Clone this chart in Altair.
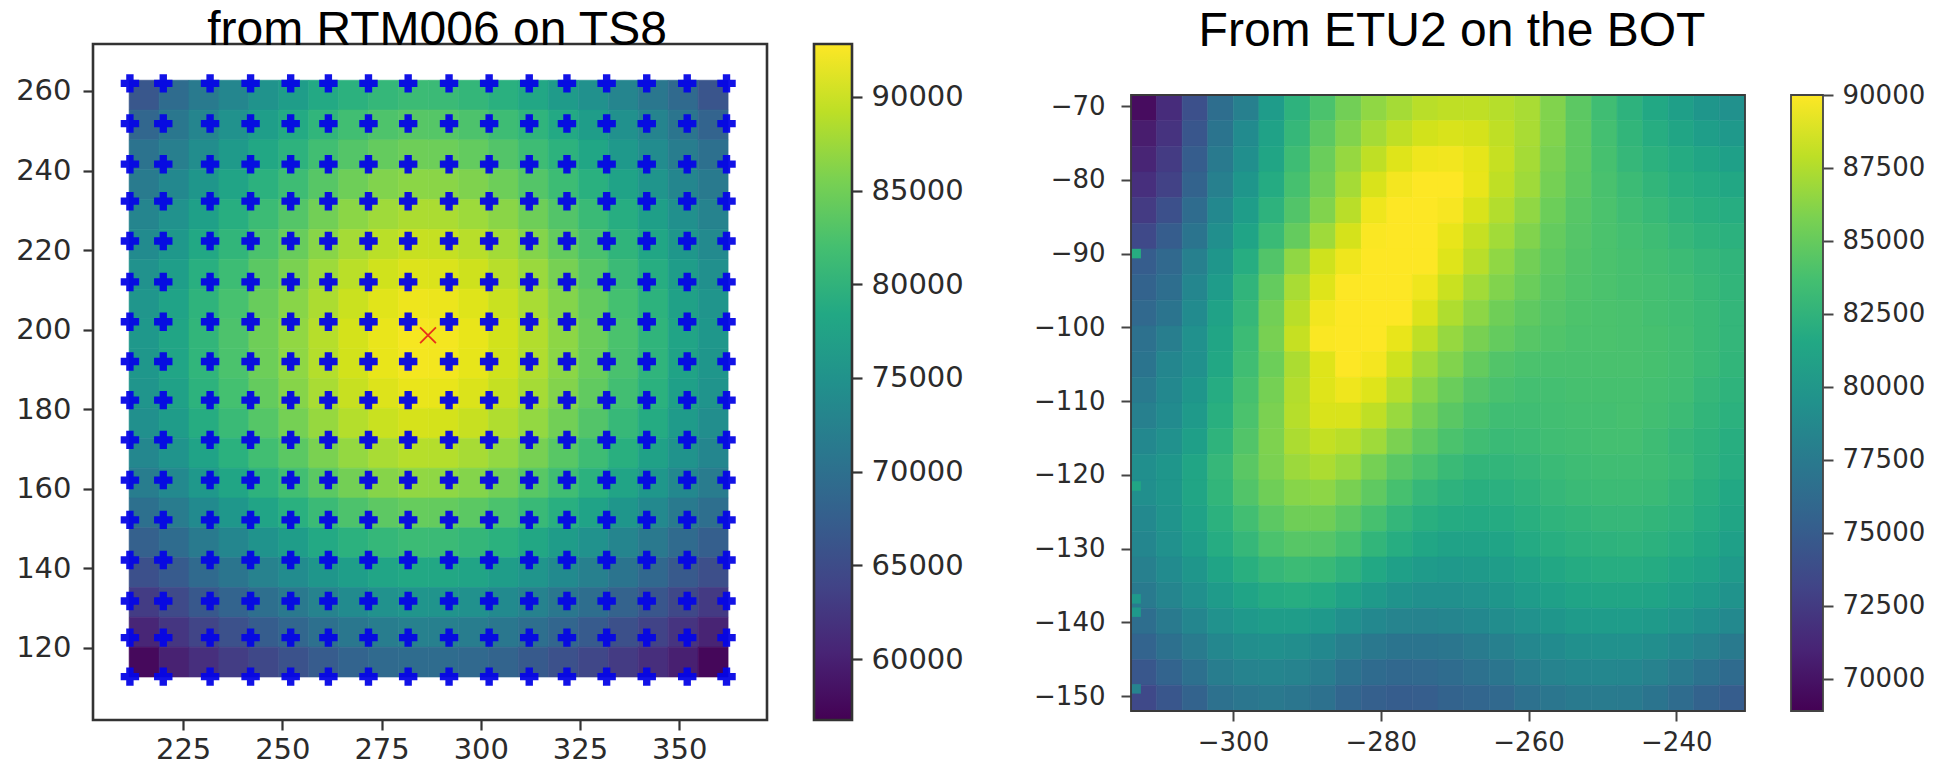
import altair as alt
import numpy as np
import pandas as pd

TITLE_LEFT = "from RTM006 on TS8"
TITLE_RIGHT = "From ETU2 on the BOT"
FONT_TITLE = "Liberation Sans"
FONT_AXIS = "DejaVu Sans"

VIRIDIS = ["#440154", "#482475", "#414487", "#355f8d", "#2a788e", "#21918c",
           "#22a884", "#44bf70", "#7ad151", "#bddf26", "#fde725"]

# Left map: values in thousands, rows top to bottom, columns left to right
TS8_X_EXTENT = [211.4, 362.3]
TS8_Y_EXTENT = [262.7, 112.7]
TS8_DOMAIN = [56750, 92820]
TS8_ROWS = [
    [66.5, 69.4, 71.5, 73.3, 75.2, 76.8, 78.5, 79.8, 80.8, 81.4, 81.3, 80.7, 79.6, 78.2, 76.4, 74.8, 73.0, 71.1, 69.0, 66.2],
    [68.6, 71.0, 73.1, 75.0, 76.9, 78.7, 80.4, 81.8, 82.8, 83.4, 83.3, 82.7, 81.6, 80.2, 78.5, 76.7, 74.8, 72.9, 70.8, 68.2],
    [70.4, 72.1, 74.3, 76.3, 78.3, 80.0, 81.8, 83.2, 84.3, 84.9, 84.8, 84.2, 83.1, 81.6, 79.9, 78.1, 76.1, 74.1, 71.9, 70.0],
    [71.6, 73.5, 75.7, 77.8, 79.8, 81.6, 83.4, 84.9, 86.0, 86.6, 86.5, 85.9, 84.8, 83.2, 81.5, 79.6, 77.6, 75.5, 73.3, 71.4],
    [73.0, 74.9, 77.2, 79.3, 81.4, 83.2, 85.1, 86.6, 87.7, 88.4, 88.3, 87.6, 86.5, 84.9, 83.1, 81.2, 79.1, 77.0, 74.7, 72.8],
    [74.0, 76.0, 78.4, 80.5, 82.6, 84.5, 86.4, 88.0, 89.1, 89.8, 89.7, 89.0, 87.9, 86.2, 84.3, 82.4, 80.3, 78.1, 75.8, 73.8],
    [74.9, 76.9, 79.4, 81.5, 83.7, 85.6, 87.6, 89.1, 90.3, 91.0, 90.9, 90.2, 89.0, 87.4, 85.4, 83.5, 81.3, 79.1, 76.7, 74.7],
    [75.6, 77.6, 80.1, 82.3, 84.5, 86.4, 88.4, 90.0, 91.2, 91.9, 91.8, 91.1, 89.9, 88.2, 86.2, 84.3, 82.1, 79.9, 77.4, 75.4],
    [76.0, 78.0, 80.5, 82.7, 84.9, 86.9, 88.9, 90.5, 91.7, 92.4, 92.3, 91.6, 90.4, 88.7, 86.7, 84.7, 82.5, 80.3, 77.8, 75.8],
    [75.9, 77.9, 80.4, 82.6, 84.8, 86.8, 88.8, 90.4, 91.6, 92.3, 92.2, 91.5, 90.3, 88.6, 86.6, 84.6, 82.4, 80.2, 77.7, 75.7],
    [75.5, 77.4, 79.9, 82.1, 84.3, 86.3, 88.2, 89.8, 91.0, 91.7, 91.6, 90.9, 89.7, 88.0, 86.1, 84.1, 81.9, 79.7, 77.2, 75.3],
    [74.6, 76.6, 79.0, 81.2, 83.3, 85.3, 87.2, 88.8, 89.9, 90.6, 90.5, 89.8, 88.6, 87.0, 85.1, 83.1, 81.0, 78.8, 76.4, 74.4],
    [73.4, 75.3, 77.6, 79.7, 81.8, 83.7, 85.6, 87.1, 88.2, 88.9, 88.8, 88.1, 87.0, 85.4, 83.5, 81.6, 79.5, 77.4, 75.1, 73.2],
    [71.9, 73.7, 76.0, 78.0, 80.0, 81.9, 83.7, 85.2, 86.3, 86.9, 86.8, 86.2, 85.1, 83.5, 81.7, 79.8, 77.8, 75.8, 73.5, 71.7],
    [70.0, 71.7, 73.9, 75.9, 77.8, 79.6, 81.3, 82.7, 83.8, 84.4, 84.3, 83.7, 82.6, 81.1, 79.4, 77.6, 75.7, 73.7, 71.5, 69.8],
    [67.7, 69.4, 71.5, 73.3, 75.2, 76.8, 78.5, 79.8, 80.8, 81.4, 81.3, 80.7, 79.7, 78.3, 76.6, 75.0, 73.1, 71.3, 69.2, 67.5],
    [65.5, 67.0, 69.0, 70.8, 72.5, 74.1, 75.7, 76.9, 77.9, 78.4, 78.3, 77.8, 76.8, 75.5, 73.9, 72.3, 70.6, 68.8, 66.8, 65.3],
    [63.0, 64.7, 66.6, 68.2, 69.8, 71.3, 72.8, 74.0, 74.9, 75.4, 75.3, 74.8, 73.9, 72.6, 71.1, 69.6, 68.0, 66.4, 64.5, 62.8],
    [60.5, 62.3, 64.1, 65.6, 67.2, 68.6, 70.0, 71.1, 71.9, 72.4, 72.3, 71.8, 71.0, 69.8, 68.4, 67.0, 65.4, 63.9, 62.1, 60.2],
    [57.5, 60.0, 61.6, 63.1, 64.5, 65.8, 67.1, 68.2, 69.0, 69.4, 69.3, 68.9, 68.1, 66.9, 65.6, 64.3, 62.9, 61.4, 59.8, 57.3],
]
GRID_COLUMNS_X = [211.6, 220.0, 231.8, 242.0, 252.1, 261.6, 271.7, 281.7, 292.0, 302.1, 312.2, 321.7, 331.7, 341.8, 352.0, 361.9]
GRID_ROWS_Y = [261.9, 251.8, 241.6, 232.3, 222.3, 212.0, 202.0, 192.0, 182.3, 172.3, 162.2, 152.2, 142.1, 131.8, 122.6, 112.8]
PEAK_X = [286.7]
PEAK_Y = [198.6]
TS8_XLIM = [202.3, 372.1]
TS8_YLIM = [101.9, 271.8]
TS8_XTICKS = [225, 250, 275, 300, 325, 350]
TS8_YTICKS = [120, 140, 160, 180, 200, 220, 240, 260]
TS8_BAR_TICKS = [60000, 65000, 70000, 75000, 80000, 85000, 90000]

# Right map: values in thousands, rows top to bottom, columns left to right
BOT_XLIM = [-313.8, -230.7]
BOT_Y_EXTENT = [-68.5, -152.0]
BOT_YLIM = [-152.0, -61.59]   # room above the frame so the panel top lines up with the left one
BOT_DOMAIN = [68900, 90000]
BOT_BAR_LIM = [68900, 91747]
BOT_ROWS = [
    [69.5, 71.5, 74.0, 76.5, 78.0, 80.5, 82.5, 84.0, 85.5, 86.5, 87.2, 87.8, 88.0, 88.0, 87.7, 87.3, 86.0, 84.7, 83.5, 82.5, 81.6, 80.8, 80.0, 79.5],
    [70.5, 72.0, 74.5, 77.0, 79.0, 81.0, 83.0, 84.7, 86.0, 87.2, 88.0, 88.6, 88.8, 88.7, 88.0, 87.3, 86.0, 84.8, 83.7, 82.8, 82.0, 81.3, 80.7, 80.2],
    [71.0, 72.5, 75.0, 77.5, 79.3, 81.3, 83.4, 85.2, 86.7, 88.0, 89.0, 89.5, 89.6, 89.2, 88.2, 87.2, 85.8, 84.8, 83.8, 83.0, 82.4, 81.8, 81.3, 80.9],
    [71.7, 73.0, 75.5, 78.0, 80.0, 81.8, 83.8, 85.5, 87.2, 88.8, 89.7, 90.0, 90.0, 89.3, 88.0, 87.0, 85.6, 84.7, 83.9, 83.3, 82.8, 82.2, 81.8, 81.5],
    [72.5, 74.0, 76.3, 78.7, 80.6, 82.5, 84.3, 86.0, 87.8, 89.5, 90.0, 90.0, 89.8, 88.8, 87.6, 86.5, 85.3, 84.5, 84.0, 83.5, 83.1, 82.6, 82.2, 82.0],
    [73.5, 75.0, 77.0, 79.3, 81.2, 83.2, 85.0, 87.0, 88.7, 89.9, 90.0, 90.0, 89.3, 88.2, 87.1, 86.0, 85.0, 84.4, 84.0, 83.7, 83.4, 83.0, 82.6, 82.4],
    [75.0, 76.0, 78.0, 80.0, 82.0, 84.3, 86.5, 88.5, 89.5, 90.0, 90.0, 90.0, 89.0, 87.8, 86.5, 85.5, 84.8, 84.3, 84.0, 83.8, 83.6, 83.3, 83.0, 82.7],
    [75.5, 76.5, 78.5, 80.5, 82.7, 85.0, 87.3, 89.0, 90.0, 90.0, 90.0, 89.5, 88.3, 87.1, 86.0, 85.2, 84.6, 84.2, 84.0, 83.8, 83.7, 83.5, 83.1, 82.8],
    [76.0, 77.0, 79.0, 81.0, 83.0, 85.5, 87.8, 89.6, 90.0, 90.0, 90.0, 88.9, 87.5, 86.4, 85.4, 84.8, 84.4, 84.1, 84.0, 83.9, 83.7, 83.5, 83.2, 82.9],
    [76.7, 77.8, 79.5, 81.3, 83.3, 85.7, 88.2, 89.9, 90.0, 90.0, 89.3, 88.0, 86.7, 85.7, 85.0, 84.5, 84.2, 84.0, 84.0, 83.9, 83.8, 83.6, 83.2, 82.9],
    [77.0, 78.5, 79.5, 81.5, 83.5, 85.3, 87.4, 89.0, 90.0, 89.7, 88.5, 87.0, 86.0, 85.0, 84.3, 84.0, 83.9, 83.9, 83.9, 83.9, 83.8, 83.6, 83.2, 82.8],
    [77.5, 78.7, 80.0, 81.9, 83.8, 85.6, 87.6, 89.0, 89.5, 89.0, 87.7, 86.2, 85.2, 84.4, 83.9, 83.7, 83.7, 83.8, 83.8, 83.8, 83.7, 83.5, 83.0, 82.6],
    [78.0, 79.0, 80.3, 82.2, 84.0, 85.8, 87.7, 88.8, 88.8, 88.0, 86.8, 85.5, 84.6, 83.9, 83.5, 83.5, 83.6, 83.7, 83.7, 83.8, 83.6, 83.3, 82.8, 82.4],
    [78.7, 79.5, 80.8, 82.6, 84.3, 85.9, 87.4, 88.1, 87.8, 87.0, 85.8, 84.8, 84.0, 83.5, 83.2, 83.3, 83.5, 83.6, 83.7, 83.7, 83.4, 83.0, 82.6, 82.1],
    [79.3, 80.0, 81.3, 83.0, 84.6, 85.8, 86.9, 87.4, 86.8, 85.6, 84.6, 83.9, 83.2, 82.8, 82.8, 83.0, 83.2, 83.4, 83.5, 83.5, 83.4, 83.1, 82.5, 82.0],
    [79.3, 80.0, 81.3, 82.8, 84.3, 85.4, 86.2, 86.4, 85.7, 84.8, 83.8, 83.0, 82.5, 82.2, 82.3, 82.6, 83.0, 83.2, 83.3, 83.3, 83.2, 82.8, 82.2, 81.6],
    [78.8, 79.8, 81.0, 82.4, 83.6, 84.7, 85.4, 85.4, 84.7, 83.8, 82.9, 82.2, 81.8, 81.7, 81.8, 82.2, 82.6, 82.8, 83.0, 83.0, 82.8, 82.5, 81.9, 81.3],
    [78.5, 79.5, 80.6, 81.9, 83.0, 84.0, 84.5, 84.4, 83.8, 82.8, 82.0, 81.4, 81.0, 81.0, 81.2, 81.7, 82.1, 82.4, 82.5, 82.6, 82.4, 82.0, 81.5, 80.9],
    [78.0, 79.0, 80.0, 81.2, 82.2, 83.0, 83.3, 83.1, 82.5, 81.6, 80.9, 80.4, 80.2, 80.3, 80.6, 81.0, 81.5, 81.8, 82.0, 82.0, 81.8, 81.4, 81.0, 80.3],
    [77.5, 78.4, 79.4, 80.4, 81.2, 81.8, 82.0, 81.7, 81.0, 80.3, 79.7, 79.4, 79.4, 79.6, 80.0, 80.5, 80.9, 81.2, 81.3, 81.3, 81.2, 80.8, 80.3, 79.7],
    [76.5, 77.5, 78.5, 79.6, 80.2, 80.6, 80.6, 80.2, 79.4, 78.7, 78.3, 78.2, 78.4, 78.7, 79.1, 79.6, 80.0, 80.4, 80.5, 80.5, 80.3, 79.9, 79.3, 78.8],
    [75.6, 76.6, 77.6, 78.6, 79.2, 79.4, 79.2, 78.7, 77.9, 77.3, 77.0, 77.0, 77.2, 77.6, 78.0, 78.6, 79.0, 79.4, 79.5, 79.5, 79.2, 78.7, 78.1, 77.5],
    [74.6, 75.6, 76.6, 77.7, 78.2, 78.4, 78.2, 77.7, 76.8, 76.2, 75.9, 76.0, 76.3, 76.7, 77.1, 77.7, 78.2, 78.5, 78.6, 78.5, 78.1, 77.5, 76.8, 76.2],
    [73.5, 74.5, 75.5, 76.7, 77.2, 77.4, 77.2, 76.7, 75.8, 75.2, 75.0, 75.1, 75.5, 75.8, 76.0, 76.7, 77.2, 77.5, 77.6, 77.5, 77.0, 76.3, 75.5, 75.0],
]
HOT_X = [-313.1, -313.1, -313.1, -313.1, -313.1]
HOT_Y = [-90.0, -121.5, -136.8, -138.6, -149.0]
HOT_V = [82000, 81400, 80200, 80200, 78200]
BOT_XTICKS = [-300, -280, -260, -240]
BOT_YTICKS = [-70, -80, -90, -100, -110, -120, -130, -140, -150]
BOT_BAR_TICKS = [70000, 72500, 75000, 77500, 80000, 82500, 85000, 87500, 90000]

LEFT_W, LEFT_H = 674, 676
LEFT_BAR_W = 38
RIGHT_W, RIGHT_H = 614, 667
RIGHT_TOP = 51
RIGHT_BAR_W = 32
GAP_A, GAP_B, GAP_C = 47, 279, 46


def cells(rows, x_extent, y_extent):
    xe = np.linspace(x_extent[0], x_extent[1], len(rows[0]) + 1)
    ye = np.linspace(y_extent[0], y_extent[1], len(rows) + 1)
    out = []
    for j, row in enumerate(rows):
        for i, v in enumerate(row):
            out.append({"x0": xe[i], "x1": xe[i + 1], "y0": ye[j], "y1": ye[j + 1], "v": v * 1000})
    return pd.DataFrame(out)


def frame(w, h, sw, col, top=0):
    return alt.Chart(pd.DataFrame({"a": [0]})).mark_rect(
        fillOpacity=0, stroke=col, strokeWidth=sw
    ).encode(x=alt.value(0), x2=alt.value(w), y=alt.value(top), y2=alt.value(h))


def axis(values, pad, size, tick_w, col, orient=None):
    kw = dict(values=values, title=None, grid=False, domain=False, tickSize=10, tickWidth=tick_w,
              tickColor=col, labelColor="#2b2b2b", labelFont=FONT_AXIS, labelFontSize=size,
              labelPadding=pad, labelFlush=False, labelOverlap=False, format="d")
    if orient:
        kw["orient"] = orient
    return alt.Axis(**kw)


def heat(rows, xext, yext, xlim, ylim, domain, xticks, yticks, xpad, ypad, size, tick_w, col):
    cs = alt.Scale(scheme="viridis", domain=domain, clamp=True)
    return alt.Chart(cells(rows, xext, yext)).mark_rect(strokeWidth=0.6).encode(
        x=alt.X("x0:Q", scale=alt.Scale(domain=xlim, nice=False, zero=False), axis=axis(xticks, xpad, size, tick_w, col)),
        x2="x1:Q",
        y=alt.Y("y0:Q", scale=alt.Scale(domain=ylim, nice=False, zero=False), axis=axis(yticks, ypad, size, tick_w, col)),
        y2="y1:Q",
        color=alt.Color("v:Q", scale=cs, legend=None),
        stroke=alt.Stroke("v:Q", scale=cs, legend=None),
    ), cs


def colorbar(bar_span, scale_lim, ticks, w, h, size, tick_w, col, sw, top=0):
    grad = alt.Gradient(gradient="linear", x1=0, x2=0, y1=1, y2=0,
                        stops=[alt.GradientStop(color=c, offset=i / (len(VIRIDIS) - 1)) for i, c in enumerate(VIRIDIS)])
    bar = alt.Chart(pd.DataFrame({"lo": [bar_span[0]], "hi": [bar_span[1]]})).mark_rect(color=grad).encode(
        y=alt.Y("lo:Q", scale=alt.Scale(domain=scale_lim, nice=False, zero=False),
                axis=axis(ticks, 9, size, tick_w, col, orient="right")),
        y2="hi:Q",
    )
    return alt.layer(bar, frame(w, h, sw, col, top)).properties(width=w, height=h)


def gap(w):
    return alt.Chart(pd.DataFrame({"a": [0]})).mark_point(opacity=0).encode(
        x=alt.X("a:Q", axis=None), y=alt.Y("a:Q", axis=None)
    ).properties(width=w, height=1)


left_heat, _ = heat(TS8_ROWS, TS8_X_EXTENT, TS8_Y_EXTENT, TS8_XLIM, TS8_YLIM, TS8_DOMAIN,
                    TS8_XTICKS, TS8_YTICKS, 5, 12, 29, 2.2, "#333333")
grid_df = pd.DataFrame([{"x": x, "y": y} for y in GRID_ROWS_Y for x in GRID_COLUMNS_X])
plus = alt.Chart(grid_df).mark_point(shape="cross", filled=True, size=340, color="#0505e6", opacity=0.95).encode(
    x="x:Q", y="y:Q")
peak = alt.Chart(pd.DataFrame({"x": PEAK_X, "y": PEAK_Y})).mark_point(
    shape="M -1 -1 L 1 1 M -1 1 L 1 -1", filled=False, size=250, stroke="#e8301a", strokeWidth=1.8, opacity=1
).encode(x="x:Q", y="y:Q")

left_map = alt.layer(left_heat, plus, peak, frame(LEFT_W, LEFT_H, 2.6, "#333333")).properties(
    width=LEFT_W, height=LEFT_H,
    title=alt.TitleParams(TITLE_LEFT, font=FONT_TITLE, fontSize=48, fontWeight="normal", color="#000000",
                          anchor="middle", dx=7, offset=-50, baseline="alphabetic"),
)
left_bar = colorbar(TS8_DOMAIN, TS8_DOMAIN, TS8_BAR_TICKS, LEFT_BAR_W, LEFT_H, 29, 2.2, "#333333", 2.6)

right_heat, right_cs = heat(BOT_ROWS, BOT_XLIM, BOT_Y_EXTENT, BOT_XLIM, BOT_YLIM, BOT_DOMAIN,
                            BOT_XTICKS, BOT_YTICKS, 8, 16, 26, 2, "#444444")
hot = alt.Chart(pd.DataFrame({"x": HOT_X, "y": HOT_Y, "v": HOT_V})).mark_square(size=90, opacity=1).encode(
    x="x:Q", y="y:Q", color=alt.Color("v:Q", scale=right_cs, legend=None))
right_map = alt.layer(right_heat, hot, frame(RIGHT_W, RIGHT_H, 1.8, "#3a3a3a", RIGHT_TOP)).properties(
    width=RIGHT_W, height=RIGHT_H,
    title=alt.TitleParams(TITLE_RIGHT, font=FONT_TITLE, fontSize=48, fontWeight="normal", color="#000000",
                          anchor="middle", dx=14, offset=-50, baseline="alphabetic"),
)
right_bar = colorbar(BOT_DOMAIN, BOT_BAR_LIM, BOT_BAR_TICKS, RIGHT_BAR_W, RIGHT_H, 26, 2, "#444444", 1.8, RIGHT_TOP)

chart = alt.hconcat(left_map, gap(GAP_A), left_bar, gap(GAP_B), right_map, gap(GAP_C), right_bar,
                    spacing=0, bounds="flush").resolve_scale(
    color="independent", stroke="independent"
).properties(
    padding={"left": 7, "top": -2, "right": 5, "bottom": 5},
    background="white",
).configure_view(stroke=None)

chart.save("out.html", embed_options={"renderer": "svg", "actions": False})
